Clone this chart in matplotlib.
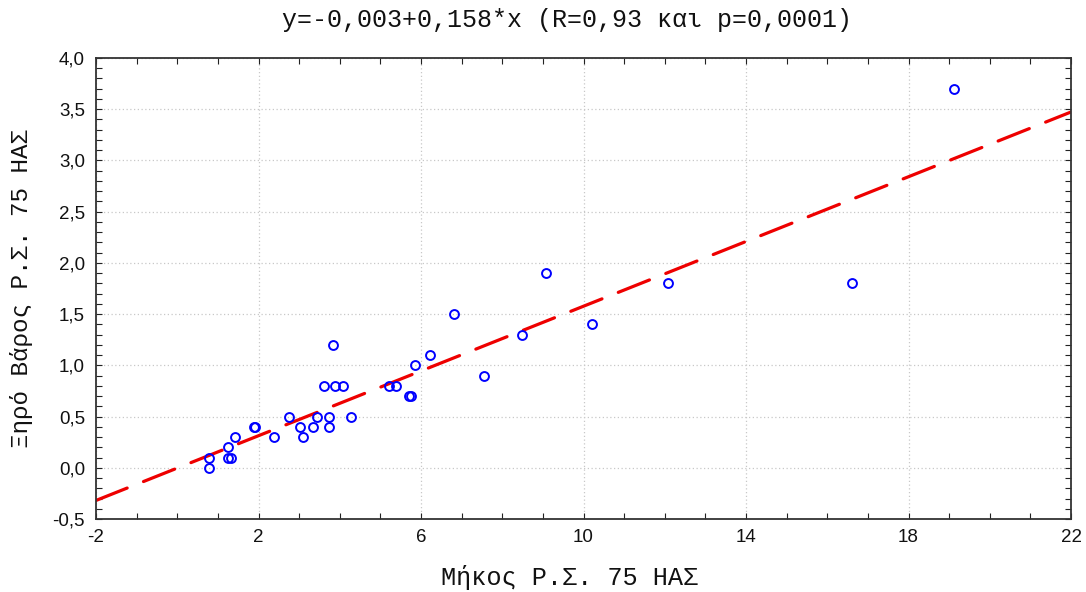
import matplotlib
matplotlib.use("Agg")
import matplotlib.pyplot as plt
from matplotlib.ticker import MultipleLocator, FixedLocator, FuncFormatter
import numpy as np

plt.rcParams["font.family"] = ["Liberation Sans", "DejaVu Sans"]

# Measurements: length (x) and dry weight (y)
length = [0.77, 0.77, 1.26, 1.24, 1.32, 1.43, 1.88, 1.92, 2.37, 2.75,
          3.02, 3.09, 3.33, 3.44, 3.73, 3.73, 3.62, 3.89, 4.07, 3.83,
          4.27, 5.22, 5.39, 5.70, 5.75, 5.86, 6.22, 6.80, 7.55, 8.49,
          9.07, 10.21, 12.09, 16.61, 19.12]
dry_weight = [0.1, 0.0, 0.2, 0.1, 0.1, 0.3, 0.4, 0.4, 0.3, 0.5,
              0.4, 0.3, 0.4, 0.5, 0.5, 0.4, 0.8, 0.8, 0.8, 1.2,
              0.5, 0.8, 0.8, 0.7, 0.7, 1.0, 1.1, 1.5, 0.9, 1.3,
              1.9, 1.4, 1.8, 1.8, 3.7]

# Fitted line
intercept = -0.003
slope = 0.158

x_range = (-2, 22)
y_range = (-0.5, 4.0)
x_ticks = [-2, 2, 6, 10, 14, 18, 22]

title = "y=-0,003+0,158*x (R=0,93 και p=0,0001)"
xlabel = "Μήκος Ρ.Σ. 75 ΗΑΣ"
ylabel = "Ξηρό Βάρος Ρ.Σ. 75 ΗΑΣ"


def comma_decimal(v, pos):
    if abs(v) < 1e-9:
        v = 0.0
    return f"{v:.1f}".replace(".", ",")


fig = plt.figure(figsize=(10.86, 5.92), dpi=100)
ax = fig.add_axes([96 / 1086, 1 - 519 / 592, 975 / 1086, 461 / 592])

ax.set_xlim(*x_range)
ax.set_ylim(*y_range)

ax.xaxis.set_major_locator(FixedLocator(x_ticks))
ax.xaxis.set_minor_locator(MultipleLocator(1))
ax.yaxis.set_major_locator(MultipleLocator(0.5))
ax.yaxis.set_minor_locator(MultipleLocator(0.1))

ax.xaxis.set_major_formatter(FuncFormatter(lambda v, p: f"{v:.0f}"))
ax.yaxis.set_major_formatter(FuncFormatter(comma_decimal))

ax.tick_params(which="both", direction="in", top=True, right=True,
               color="#222222", width=0.8, length=4,
               labelsize=13.5, labelcolor="#111111")
ax.tick_params(axis="x", which="major", pad=7)
ax.tick_params(axis="y", which="major", pad=8)

for side in ["left", "bottom", "right", "top"]:
    ax.spines[side].set_color("#333333")
    ax.spines[side].set_linewidth(1.3)

ax.grid(True, which="major", linestyle=(0, (1, 2)), color="#c8c8c8", linewidth=0.9)
ax.set_axisbelow(True)

# Regression line across the full x range
xs = np.array(x_range, dtype=float)
ax.plot(xs, intercept + slope * xs, color="#ee0000", linewidth=2.3,
        linestyle=(0, (10.5, 5.5)), dash_capstyle="round", zorder=2)

ax.plot(length, dry_weight, linestyle="none", marker="o", markersize=6.4,
        markerfacecolor="none", markeredgecolor="#0000ff",
        markeredgewidth=1.4, zorder=3)

mono = "Liberation Mono"
fig.text(567 / 1086, 1 - 20 / 592, title, ha="center", va="center",
         fontfamily=mono, fontsize=18, color="#111111")
fig.text(570 / 1086, 1 - 578 / 592, xlabel, ha="center", va="center",
         fontfamily=mono, fontsize=18.2, color="#111111")
fig.text(22 / 1086, 1 - 288 / 592, ylabel, ha="center", va="center",
         rotation=90, fontfamily=mono, fontsize=17.5, color="#111111")

fig.savefig("out.png", dpi=100)
